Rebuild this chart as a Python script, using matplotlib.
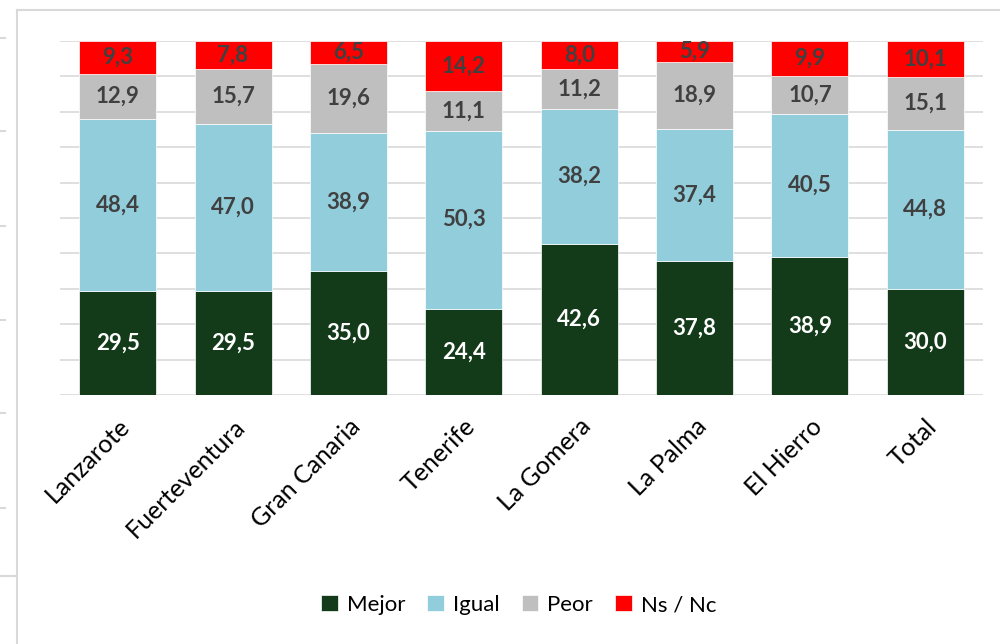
import matplotlib
matplotlib.use("Agg")
from matplotlib import pyplot as plt
from matplotlib.lines import Line2D
import numpy as np

islas = ["Lanzarote", "Fuerteventura", "Gran Canaria", "Tenerife",
         "La Gomera", "La Palma", "El Hierro", "Total"]
mejor = [29.5, 29.5, 35.0, 24.4, 42.6, 37.8, 38.9, 30.0]
igual = [48.4, 47.0, 38.9, 50.3, 38.2, 37.4, 40.5, 44.8]
peor = [12.9, 15.7, 19.6, 11.1, 11.2, 18.9, 10.7, 15.1]
nsnc = [9.3, 7.8, 6.5, 14.2, 8.0, 5.9, 9.9, 10.1]

series = [("Mejor", mejor, "#133a19", "white"),
          ("Igual", igual, "#92cddc", "#404040"),
          ("Peor", peor, "#bfbfbf", "#404040"),
          ("Ns / Nc", nsnc, "#ff0000", "#404040")]

plt.rcParams['font.family'] = ['Lato', 'DejaVu Sans']

fig = plt.figure(figsize=(10, 6.44), dpi=100)
ax = fig.add_axes([0.06, 1 - 395 / 644, 0.923, (395 - 41) / 644])

x = np.arange(len(islas))
bottom = np.zeros(len(islas))
for nombre, vals, color, tcol in series:
    vals = np.array(vals)
    ax.bar(x, vals, 0.667, bottom=bottom, color=color, label=nombre,
           edgecolor="white", linewidth=0.5, zorder=3)
    for xi, b, v in zip(x, bottom, vals):
        ax.text(xi, b + v / 2, f"{v:.1f}".replace(".", ","), ha="center", va="center",
                color=tcol, fontsize=16, fontweight="bold", zorder=4)
    bottom += vals

ax.set_xlim(-0.5, len(islas) - 0.5)
ax.set_ylim(0, 100)
ax.set_yticks(np.arange(0, 101, 10))
ax.yaxis.grid(True, color="#d9d9d9", linewidth=1.2, zorder=0)
ax.tick_params(axis="y", length=0, labelleft=False)
ax.tick_params(axis="x", length=0, pad=14)
ax.set_xticks(x)
ax.set_xticklabels(islas, rotation=45, ha="right", rotation_mode="anchor",
                   fontsize=18, color="black")
for s in ax.spines.values():
    s.set_visible(False)

ax.legend(loc="center", bbox_to_anchor=(0.497, 1 - (605 - 41) / 354),
          ncol=4, frameon=False, fontsize=16, handlelength=0.75, handleheight=0.75,
          handletextpad=0.4, columnspacing=1.0)

# marco exterior y restos del grafico vecino
fig.add_artist(Line2D([17 / 1000, 17 / 1000], [0, 1 - 10 / 644], color="#d9d9d9", lw=1.5))
fig.add_artist(Line2D([17 / 1000, 1], [1 - 10 / 644, 1 - 10 / 644], color="#d9d9d9", lw=1.5))
for yy in [38, 131, 226, 320, 413, 508]:
    fig.add_artist(Line2D([0, 5 / 1000], [1 - yy / 644, 1 - yy / 644], color="#d9d9d9", lw=1.5))
fig.add_artist(Line2D([0, 17 / 1000], [1 - 576 / 644, 1 - 576 / 644], color="#d9d9d9", lw=1.5))

fig.savefig("out.png", dpi=100)
